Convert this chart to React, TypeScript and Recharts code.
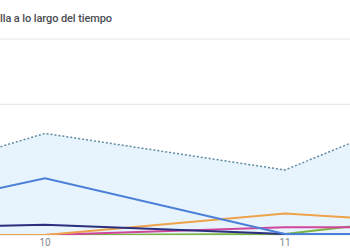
import React from "react";
import { ComposedChart, Line, Area, XAxis, YAxis, CartesianGrid } from "recharts";

// Day of month for each point (only 10 and 11 fall inside the visible window)
const days = [9, 10, 11, 12];
const dayTicks = [10, 11];
const valueTicks = [0, 20, 40, 60];

// Total (dotted, shaded) and per-item series
const total = [9.2, 31.1, 19.9, 50.1];
const seriesBlue = [1.5, 17.4, 0.3, 0.4];
const seriesNavy = [1.8, 3.1, 0.3, 0.2];
const seriesOrange = [0, 0, 6.6, 2.1];
const seriesPink = [0, 0, 2.4, 2.4];
const seriesGreen = [0, 0, 0.3, 8.9];

const rows = days.map((d, i) => ({
  day: d,
  total: total[i],
  blue: seriesBlue[i],
  navy: seriesNavy[i],
  orange: seriesOrange[i],
  pink: seriesPink[i],
  green: seriesGreen[i],
}));

const lines = [
  { key: "green", color: "#7cb342" },
  { key: "pink", color: "#d0469a" },
  { key: "orange", color: "#eea24a" },
  { key: "navy", color: "#2b2f7e" },
  { key: "blue", color: "#4a80d8" },
];

export default function App() {
  return (
    <div style={{ position: "absolute", left: 0, top: 0, width: 350, height: 250, overflow: "hidden", background: "#fff" }}>
      <div
        style={{
          position: "absolute",
          left: 0,
          top: 12,
          fontFamily: "Roboto, 'Noto Sans', sans-serif",
          fontSize: 11,
          fontWeight: 500,
          letterSpacing: -0.1,
          color: "#4a4d51",
          whiteSpace: "nowrap",
        }}
      >
        lla a lo largo del tiempo
      </div>
      <ComposedChart
        width={350}
        height={250}
        data={rows}
        margin={{ top: 39, right: 0, bottom: 0, left: 0 }}
      >
        <CartesianGrid vertical={false} stroke="#e2e4e6" />
        <XAxis
          dataKey="day"
          type="number"
          domain={[9.8125, 11.2708]}
          allowDataOverflow
          ticks={dayTicks}
          axisLine={false}
          tickLine={false}
          tickSize={0}
          tickMargin={4}
          height={15}
          tick={{ fontSize: 10, fill: "#80868b", fontFamily: "Roboto, sans-serif" }}
        />
        <YAxis hide domain={[0, 60]} ticks={valueTicks} allowDataOverflow />
        <Area
          dataKey="total"
          type="linear"
          stroke="none"
          fill="#e8f4fd"
          fillOpacity={1}
          isAnimationActive={false}
        />
        {lines.map((l) => (
          <Line
            key={l.key}
            dataKey={l.key}
            type="linear"
            stroke={l.color}
            strokeWidth={2}
            dot={false}
            isAnimationActive={false}
          />
        ))}
        <Line
          dataKey="total"
          type="linear"
          stroke="#5e8aa3"
          strokeWidth={1.5}
          strokeDasharray="2 2"
          dot={false}
          isAnimationActive={false}
        />
      </ComposedChart>
    </div>
  );
}
